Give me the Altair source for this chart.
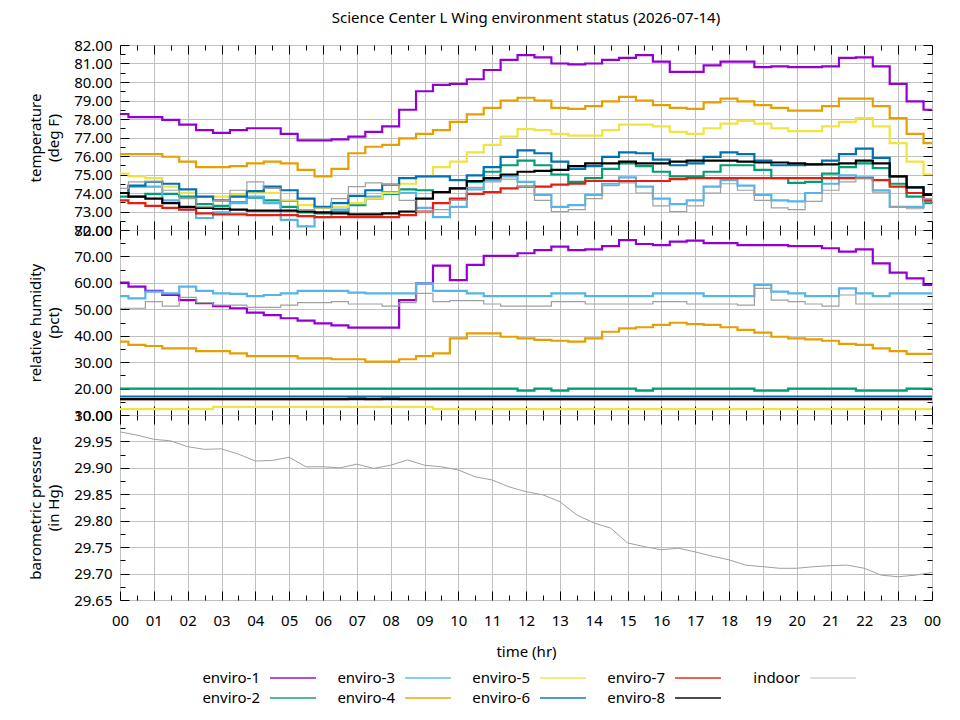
import altair as alt
import pandas as pd

# ---------------- data ----------------
hours = [0, 0.5, 1, 1.5, 2, 2.5, 3, 3.5, 4, 4.5, 5, 5.5, 6, 6.5, 7, 7.5, 8, 8.5,
         9, 9.5, 10, 10.5, 11, 11.5, 12, 12.5, 13, 13.5, 14, 14.5, 15, 15.5, 16,
         16.5, 17, 17.5, 18, 18.5, 19, 19.5, 20, 20.5, 21, 21.5, 22, 22.5, 23,
         23.5, 24]

series_names = ["enviro-1", "enviro-2", "enviro-3", "enviro-4", "enviro-5",
                "enviro-6", "enviro-7", "enviro-8", "indoor"]
series_colors = ["#9400d3", "#009e73", "#56b4e9", "#e69f00", "#f0e442",
                 "#0072b2", "#e51e10", "#000000", "#a0a0a0"]

temp_e1 = [78.27, 78.1, 78.1, 77.95, 77.7, 77.4, 77.25, 77.4, 77.5, 77.5, 77.2, 76.85,
           76.85, 76.9, 77.05, 77.3, 77.6, 78.5, 79.5, 79.85, 79.9, 80.15, 80.65, 81.2,
           81.45, 81.33, 81.0, 80.95, 81.0, 81.2, 81.3, 81.45, 81.1, 80.55, 80.55, 80.9,
           81.1, 81.1, 80.8, 80.85, 80.8, 80.8, 80.85, 81.3, 81.33, 80.85, 79.9, 78.95, 78.5]
temp_e2 = [73.8, 73.8, 73.95, 73.95, 73.8, 73.4, 73.3, 73.5, 73.75, 73.6, 73.25, 72.95,
           72.9, 73.0, 73.35, 73.7, 73.95, 74.2, 74.15, 74.05, 74.25, 74.6, 75.15, 75.5,
           75.75, 75.5, 75.0, 74.6, 74.8, 75.3, 75.6, 75.45, 75.15, 74.9, 74.9, 75.15,
           75.5, 75.5, 75.25, 74.8, 74.55, 74.6, 75.05, 75.4, 75.6, 75.35, 74.5, 73.8, 73.45]
temp_e3 = [74.0, 74.35, 74.35, 73.6, 73.1, 72.65, 72.95, 73.45, 73.8, 73.45, 72.55, 72.2,
           72.7, 73.1, 73.45, 73.8, 74.05, 74.0, 73.2, 72.7, 73.25, 74.2, 74.7, 74.9,
           74.6, 73.9, 73.25, 73.35, 73.9, 74.5, 74.85, 74.35, 73.7, 73.4, 73.6, 74.35,
           74.7, 74.4, 73.9, 73.6, 73.55, 74.0, 74.5, 74.95, 74.85, 74.15, 73.25, 73.25, 73.55]
temp_e4 = [76.1, 76.1, 76.1, 75.96, 75.7, 75.4, 75.4, 75.45, 75.6, 75.7, 75.6, 75.25,
           74.9, 75.3, 76.15, 76.5, 76.6, 76.95, 77.2, 77.4, 77.85, 78.25, 78.6, 79.0,
           79.15, 79.0, 78.6, 78.55, 78.7, 78.95, 79.2, 79.0, 78.75, 78.6, 78.55, 78.9,
           79.1, 78.95, 78.75, 78.6, 78.45, 78.45, 78.7, 79.1, 79.1, 78.7, 78.05, 77.2, 76.7]
temp_e5 = [75.05, 74.9, 74.8, 74.35, 74.0, 73.8, 73.8, 73.9, 74.0, 74.0, 73.6, 73.35,
           73.2, 73.25, 73.45, 73.7, 74.0, 74.5, 74.9, 75.4, 75.7, 76.2, 76.6, 77.05,
           77.45, 77.4, 77.2, 77.1, 77.1, 77.4, 77.7, 77.7, 77.6, 77.3, 77.2, 77.5,
           77.75, 77.9, 77.75, 77.5, 77.35, 77.35, 77.6, 77.85, 78.05, 77.6, 76.7, 75.7, 75.0]
temp_e6 = [74.0, 74.4, 74.6, 74.5, 74.2, 73.8, 73.6, 73.8, 74.1, 74.35, 74.15, 73.7,
           73.25, 73.45, 73.85, 74.15, 74.45, 74.8, 74.9, 74.9, 74.7, 74.95, 75.4, 75.95,
           76.3, 76.15, 75.7, 75.3, 75.45, 75.95, 76.2, 76.15, 75.8, 75.5, 75.6, 75.95,
           76.2, 76.1, 75.75, 75.5, 75.5, 75.55, 75.75, 76.1, 76.4, 75.9, 74.9, 74.3, 73.9]
temp_e7 = [73.6, 73.45, 73.3, 73.2, 73.1, 72.9, 72.85, 72.85, 72.8, 72.8, 72.8, 72.75,
           72.7, 72.7, 72.7, 72.7, 72.7, 72.8, 73.0, 73.45, 73.7, 73.95, 74.05, 74.25,
           74.35, 74.35, 74.45, 74.5, 74.65, 74.65, 74.65, 74.65, 74.65, 74.75, 74.8, 74.8,
           74.8, 74.8, 74.8, 74.8, 74.8, 74.8, 74.8, 74.8, 74.8, 74.7, 74.35, 74.0, 73.6]
temp_e8 = [74.0, 73.8, 73.7, 73.45, 73.25, 73.2, 73.15, 73.1, 73.05, 73.05, 73.05, 73.0,
           72.95, 72.9, 72.85, 72.85, 72.9, 73.0, 73.7, 74.05, 74.25, 74.65, 74.8, 75.0,
           75.15, 75.2, 75.25, 75.45, 75.6, 75.6, 75.7, 75.6, 75.6, 75.7, 75.75, 75.75,
           75.75, 75.7, 75.65, 75.65, 75.6, 75.55, 75.55, 75.6, 75.75, 75.6, 74.9, 74.3, 73.9]
temp_in = [74.25, 74.6, 74.6, 74.15, 73.7, 73.25, 73.6, 74.15, 74.6, 74.25, 73.55, 73.1,
           73.2, 73.7, 74.35, 74.55, 74.45, 73.6, 73.0, 73.1, 73.6, 74.3, 74.6, 74.75,
           74.35, 73.6, 73.0, 73.1, 73.7, 74.4, 74.55, 74.0, 73.3, 73.0, 73.3, 74.0,
           74.5, 74.15, 73.6, 73.2, 73.1, 73.55, 74.15, 74.6, 74.8, 74.05, 73.25, 73.15, 73.7]

hum_e1 = [60.1, 58.6, 57.0, 55.4, 53.5, 52.3, 51.2, 50.4, 48.7, 47.8, 46.6, 45.7,
          44.7, 43.9, 43.05, 43.05, 43.05, 53.5, 59.8, 66.5, 61.0, 66.8, 70.2, 70.2,
          71.2, 72.4, 73.7, 72.4, 72.7, 73.9, 76.2, 74.7, 74.3, 75.6, 76.0, 75.0,
          75.0, 74.3, 74.3, 74.3, 73.9, 73.9, 73.1, 71.8, 72.7, 67.4, 63.9, 61.7, 59.2]
hum_e2 = [20.0, 20.0, 20.0, 20.0, 20.0, 20.0, 20.0, 20.0, 20.0, 20.0, 20.0, 20.0,
          20.0, 20.0, 20.0, 20.0, 20.0, 20.0, 20.0, 20.0, 20.0, 20.0, 20.0, 20.0,
          19.2, 20.0, 19.2, 20.0, 20.0, 20.0, 20.0, 19.2, 20.0, 20.0, 20.0, 20.0,
          20.0, 20.0, 19.2, 19.2, 20.0, 20.0, 20.0, 20.0, 19.2, 19.2, 19.2, 20.0, 20.0]
hum_e3 = [55.0, 54.1, 56.7, 56.0, 58.6, 57.0, 56.0, 55.8, 55.0, 55.4, 56.0, 57.0,
          57.0, 57.0, 56.3, 56.0, 56.0, 56.0, 59.8, 57.0, 57.0, 56.0, 55.0, 55.0,
          55.0, 55.0, 56.0, 56.0, 55.0, 55.0, 55.0, 55.0, 56.0, 56.0, 56.0, 55.0,
          55.0, 55.0, 59.2, 56.7, 56.0, 55.0, 55.0, 57.9, 56.0, 55.0, 56.0, 56.0, 56.0]
hum_e4 = [37.8, 36.5, 36.1, 35.2, 35.2, 34.2, 34.2, 33.3, 32.3, 32.3, 32.3, 31.4,
          31.4, 31.1, 31.1, 30.2, 30.2, 31.1, 32.3, 33.3, 39.0, 40.9, 40.9, 39.6,
          39.0, 38.4, 38.1, 37.8, 39.0, 41.5, 42.8, 43.2, 44.1, 44.9, 44.4, 44.1,
          43.2, 42.2, 41.2, 39.6, 39.0, 38.6, 38.1, 36.9, 36.5, 35.2, 34.2, 33.1, 33.1]
hum_e5 = [12.2, 12.2, 12.2, 12.2, 12.2, 12.2, 13.1, 13.1, 13.1, 13.1, 13.1, 13.1,
          13.1, 13.1, 13.1, 13.1, 13.1, 13.1, 13.1, 12.2, 12.2, 12.2, 12.2, 12.2,
          12.2, 12.2, 12.2, 12.2, 12.2, 12.2, 12.2, 12.2, 12.2, 12.2, 12.2, 12.2,
          12.2, 12.2, 12.2, 12.2, 12.2, 12.2, 12.2, 12.2, 12.2, 12.2, 12.2, 12.2, 12.2]
hum_e6 = [17.0] * 49
hum_e7 = [16.0, 16.0, 16.0, 16.0, 16.0, 16.0, 16.0, 16.0, 16.0, 16.0, 16.0, 16.0,
          16.0, 16.0, 16.3, 16.0, 16.3, 16.0, 16.0, 16.0, 16.0, 16.0, 16.0, 16.0,
          16.0, 16.0, 16.0, 16.0, 16.0, 16.0, 16.0, 16.0, 16.0, 16.0, 16.0, 16.0,
          16.0, 16.0, 16.0, 16.0, 16.0, 16.0, 16.0, 16.0, 16.0, 16.0, 16.0, 16.0, 16.0]
hum_e8 = [16.0] * 49
hum_in = [50.4, 50.4, 52.9, 51.2, 54.5, 52.5, 51.6, 51.6, 50.7, 50.7, 51.6, 52.5,
          52.5, 52.9, 52.0, 52.0, 51.2, 52.5, 56.0, 52.9, 53.3, 53.3, 52.0, 51.2,
          51.2, 51.2, 52.9, 52.9, 52.0, 52.0, 52.0, 52.0, 52.9, 52.9, 52.0, 52.0,
          52.0, 51.6, 57.9, 53.5, 52.9, 52.0, 51.2, 55.4, 52.0, 52.0, 52.0, 52.0, 52.0]

pres_in = [29.968, 29.962, 29.954, 29.951, 29.940, 29.935, 29.936, 29.926, 29.913,
           29.914, 29.920, 29.902, 29.902, 29.900, 29.907, 29.899, 29.905, 29.915,
           29.905, 29.902, 29.896, 29.883, 29.877, 29.864, 29.855, 29.849, 29.836,
           29.811, 29.796, 29.786, 29.758, 29.751, 29.745, 29.748, 29.741, 29.733,
           29.726, 29.716, 29.713, 29.710, 29.710, 29.713, 29.715, 29.716, 29.710,
           29.697, 29.694, 29.697, 29.702]

temp_ticks = [72, 72.5, 73, 73.5, 74, 74.5, 75, 75.5, 76, 76.5, 77, 77.5, 78, 78.5,
              79, 79.5, 80, 80.5, 81, 81.5, 82]
hum_ticks = [10, 15, 20, 25, 30, 35, 40, 45, 50, 55, 60, 65, 70, 75, 80]
pres_ticks = [29.65, 29.675, 29.70, 29.725, 29.75, 29.775, 29.80, 29.825, 29.85,
              29.875, 29.90, 29.925, 29.95, 29.975, 30.00]

legend_order = ["enviro-1", "enviro-2", "enviro-3", "enviro-4", "enviro-5",
                "enviro-6", "enviro-7", "enviro-8", "indoor"]
legend_cols = [0, 0, 1, 1, 2, 2, 3, 3, 4]
legend_rows = [0, 1, 0, 1, 0, 1, 0, 1, 0]

# ---------------- tables ----------------
def long_table(cols):
    rows = []
    for name, vals in zip(series_names, cols):
        for h, v in zip(hours, vals):
            rows.append({"hour": h, "value": v, "series": name})
    return pd.DataFrame(rows)

temp_df = long_table([temp_e1, temp_e2, temp_e3, temp_e4, temp_e5, temp_e6, temp_e7, temp_e8, temp_in])
hum_df = long_table([hum_e1, hum_e2, hum_e3, hum_e4, hum_e5, hum_e6, hum_e7, hum_e8, hum_in])
pres_df = pd.DataFrame({"hour": hours, "value": pres_in})
leg_df = pd.DataFrame({"series": legend_order, "col": legend_cols, "row": legend_rows})

# ---------------- styles ----------------
FONT = "Noto Sans"
FS = 15
GRID = "#c0c0c0"
W, H = 812, 185

color_scale = alt.Scale(domain=series_names, range=series_colors)
X_MAJOR = "abs(datum.value - round(datum.value)) < 0.001"


def x_axis(orient, show_labels, title=None):
    return alt.Axis(
        orient=orient, values=hours, labels=show_labels, domain=False,
        tickColor="black", tickWidth=1,
        tickSize={"condition": {"test": X_MAJOR, "value": -9}, "value": -5},
        grid=(orient == "bottom"), gridColor=GRID, gridWidth=1,
        gridOpacity={"condition": {"test": X_MAJOR, "value": 1}, "value": 0},
        labelExpr=f"({X_MAJOR}) ? format(datum.value % 24, '02d') : ''",
        labelFlush=False, labelOverlap=False, labelPadding=22,
        labelFont=FONT, labelFontSize=FS, labelColor="black",
        title=title, titleFont=FONT, titleFontSize=FS, titleFontWeight="normal",
        titleColor="black", titlePadding=12,
    )


def y_axis(orient, ticks, major, show_labels, title=None):
    return alt.Axis(
        orient=orient, values=ticks, labels=show_labels, domain=False,
        tickColor="black", tickWidth=1,
        tickSize={"condition": {"test": major, "value": -9}, "value": -5},
        grid=(orient == "left"), gridColor=GRID, gridWidth=1,
        gridOpacity={"condition": {"test": major, "value": 1}, "value": 0},
        labelExpr=f"({major}) ? format(datum.value, '.2f') : ''",
        labelFlush=False, labelOverlap=False, labelPadding=17,
        labelFont=FONT, labelFontSize=FS, labelColor="black",
        title=title, titleFont=FONT, titleFontSize=FS, titleFontWeight="normal",
        titleColor="black", titlePadding=12, titleLineHeight=18,
    )


def panel(df, ydomain, ticks, major, ytitle, interp, bottom=False, multi=True):
    xs = alt.Scale(domain=[0, 24], nice=False, zero=False)
    ys = alt.Scale(domain=ydomain, nice=False, zero=False)
    enc = dict(
        x=alt.X("hour:Q", scale=xs, axis=x_axis("bottom", bottom, "time (hr)" if bottom else None)),
        y=alt.Y("value:Q", scale=ys, axis=y_axis("left", ticks, major, True, ytitle)),
    )
    if multi:
        enc["color"] = alt.Color("series:N", scale=color_scale, legend=None)
        enc["strokeWidth"] = alt.when(alt.datum.series == "indoor").then(alt.value(1.2)).otherwise(alt.value(2.2))
        lines = alt.Chart(df).mark_line(interpolate=interp, clip=True).encode(**enc)
    else:
        lines = alt.Chart(df).mark_line(interpolate=interp, clip=True, color="#a0a0a0",
                                        strokeWidth=1).encode(**enc)
    mirror_enc = dict(
        x=alt.X("hour:Q", scale=xs, axis=x_axis("top", False)),
        y=alt.Y("value:Q", scale=ys, axis=y_axis("right", ticks, major, False)),
    )
    if multi:
        mirror_enc["detail"] = "series:N"
    mirror = alt.Chart(df).mark_line(strokeOpacity=0).encode(**mirror_enc)
    return alt.layer(lines, mirror).resolve_axis(x="independent", y="independent").properties(
        width=W, height=H)


temp = panel(temp_df, [72, 82], temp_ticks, "abs(datum.value - round(datum.value)) < 0.001",
             ["temperature", "(deg F)"], "step").properties(
    title=alt.TitleParams(text="Science Center L Wing environment status (2026-07-14)",
                          font=FONT, fontSize=FS, fontWeight="normal", color="black",
                          anchor="middle", frame="group", offset=12))
hum = panel(hum_df, [10, 80], hum_ticks, "abs(datum.value % 10) < 0.001",
            ["relative humidity", "(pct)"], "step")
pres = panel(pres_df, [29.65, 30.0], pres_ticks,
             "abs(datum.value * 20 - round(datum.value * 20)) < 0.001",
             ["barometric pressure", "(in Hg)"], "linear", bottom=True, multi=False)

# ---------------- legend ----------------
LH = 118
lbase = alt.Chart(leg_df).encode(
    x=alt.X("col:Q", scale=alt.Scale(domain=[-1.037, 4.978], nice=False, zero=False), axis=None),
    y=alt.Y("row:Q", scale=alt.Scale(domain=[-3.9, 2.0], nice=False, zero=False, reverse=True), axis=None),
)
ltext = lbase.mark_text(align="right", baseline="middle", font=FONT, fontSize=FS,
                        color="black").encode(text="series:N")
lthick = lbase.transform_filter(alt.datum.series != "indoor").mark_tick(
    orient="horizontal", size=46, thickness=2, xOffset=33).encode(
    color=alt.Color("series:N", scale=color_scale, legend=None))
lthin = lbase.transform_filter(alt.datum.series == "indoor").mark_tick(
    orient="horizontal", size=46, thickness=1, xOffset=33).encode(
    color=alt.Color("series:N", scale=color_scale, legend=None))
legend = alt.layer(ltext, lthick, lthin).properties(
    width=W, height=LH, view=alt.ViewBackground(stroke=None))

chart = alt.vconcat(temp, hum, pres, legend, spacing=0, bounds="flush").properties(
    padding={"left": 20, "top": 2, "right": 5, "bottom": 0},
    background="white",
).configure_view(stroke="black", strokeWidth=1).configure(font=FONT)

chart.save("out.html", embed_options={"renderer": "svg", "actions": False})
